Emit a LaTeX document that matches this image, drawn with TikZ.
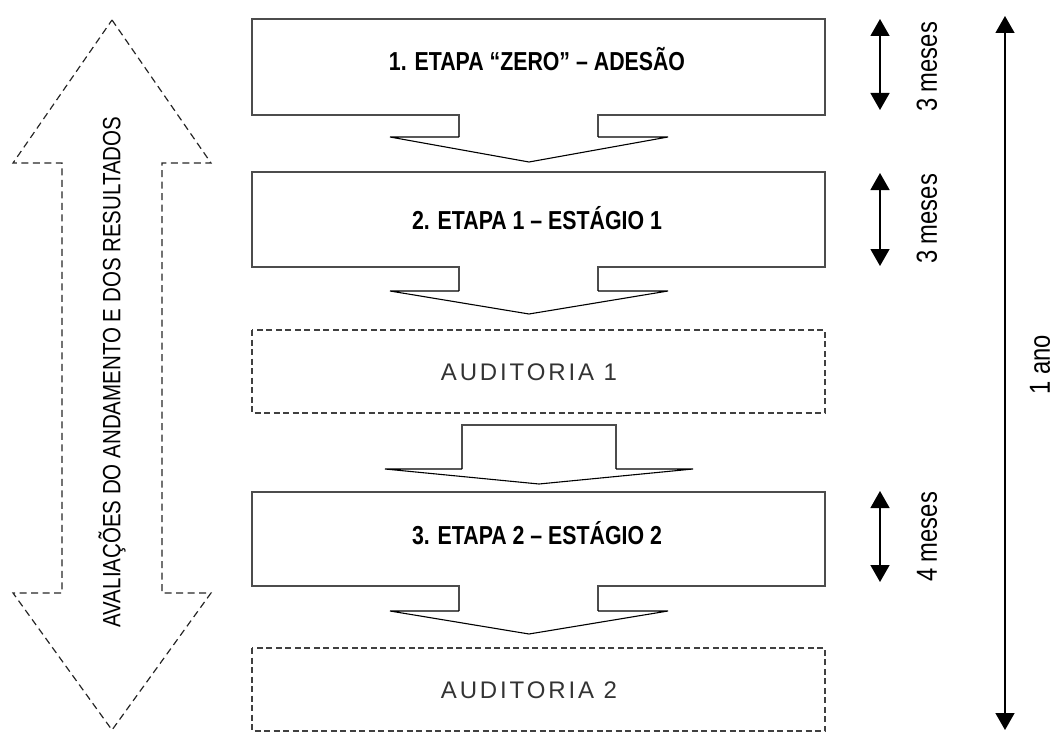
\documentclass[tikz,border=0pt]{standalone}
\usepackage{fontspec}
\setmainfont{Liberation Sans}
\newfontfamily\narrowfont[FakeStretch=0.82]{Liberation Sans}
\newfontfamily\audfont[LetterSpace=12]{Liberation Sans}
\usetikzlibrary{arrows.meta}
\tikzset{
  boxline/.style={draw=black!70,line width=1.3pt},
  arrline/.style={draw=black,line width=1.1pt,line join=miter},
  dashbox/.style={draw=black!75,line width=1.2pt,dash pattern=on 6pt off 3.5pt},
  bigdash/.style={draw=black!85,line width=1.2pt,dash pattern=on 7pt off 4.5pt},
  title/.style={font=\narrowfont\bfseries\fontsize{26}{30}\selectfont,inner sep=0pt},
  aud/.style={font=\audfont\fontsize{24}{28}\selectfont,text=black!80,inner sep=0pt},
  side/.style={font=\narrowfont\fontsize{29}{33}\selectfont,rotate=90,inner sep=0pt},
  dbl/.style={line width=1.5pt,{Triangle[width=19pt,length=17pt]}-{Triangle[width=19pt,length=17pt]}},
}
\begin{document}
\begin{tikzpicture}[x=1pt,y=-1pt]
\useasboundingbox (0,0) rectangle (1057,733);
% left double arrow
\draw[bigdash] (112,20) -- (211,163) -- (162,163) -- (162,593) -- (211,593) -- (112,730)
  -- (13,593) -- (62,593) -- (62,163) -- (13,163) -- cycle;
\node[font=\narrowfont\fontsize{25}{29}\selectfont,rotate=90,inner sep=0pt] (lt) at (112,372)
  {AVALIAÇÕES DO ANDAMENTO E DOS RESULTADOS};
% box 1
\draw[boxline] (459,137) -- (459,115) -- (252,115) -- (252,19) -- (825,19) -- (825,115) -- (598,115) -- (598,137);
\draw[arrline] (598,137) -- (668,137) -- (529,162) -- (390,137) -- (459,137);
\node[title] (t1) at (537,59) {1. ETAPA “ZERO” – ADESÃO};
% box 2
\draw[boxline] (459,291) -- (459,267) -- (252,267) -- (252,172) -- (825,172) -- (825,267) -- (598,267) -- (598,291);
\draw[arrline] (598,291) -- (668,291) -- (529,314) -- (390,291) -- (459,291);
\node[title] (t2) at (537,218) {2. ETAPA 1 – ESTÁGIO 1};
% auditoria 1
\draw[dashbox] (252,330) rectangle (825,413);
\node[aud] (a1) at (529,372) {AUDITORIA 1};
% stem arrow
\draw[boxline] (462,469) -- (462,425) -- (616,425) -- (616,469);
\draw[arrline] (616,469) -- (693,469) -- (539,484) -- (385,469) -- (462,469);
% box 3
\draw[boxline] (459,611) -- (459,586) -- (252,586) -- (252,492) -- (825,492) -- (825,586) -- (598,586) -- (598,611);
\draw[arrline] (598,611) -- (668,611) -- (529,634) -- (390,611) -- (459,611);
\node[title] (t3) at (537,533) {3. ETAPA 2 – ESTÁGIO 2};
% auditoria 2
\draw[dashbox] (252,648) rectangle (825,731);
\node[aud] (a2) at (529,690) {AUDITORIA 2};
% right arrows
\coordinate (s1t) at (880,19); \coordinate (s1b) at (880,110);
\coordinate (s2t) at (880,173); \coordinate (s2b) at (880,266);
\coordinate (s3t) at (880,491); \coordinate (s3b) at (880,582);
\coordinate (bt) at (1005,16); \coordinate (bb) at (1005,730);
\draw[dbl] (s1t) -- (s1b);
\draw[dbl] (s2t) -- (s2b);
\draw[dbl] (s3t) -- (s3b);
\draw[dbl] (bt) -- (bb);
\node[side] (m1) at (927,67) {3 meses};
\node[side] (m2) at (927,219) {3 meses};
\node[side] (m3) at (927,537) {4 meses};
\node[side] (y1) at (1040,365) {1 ano};
\end{tikzpicture}
\end{document}
